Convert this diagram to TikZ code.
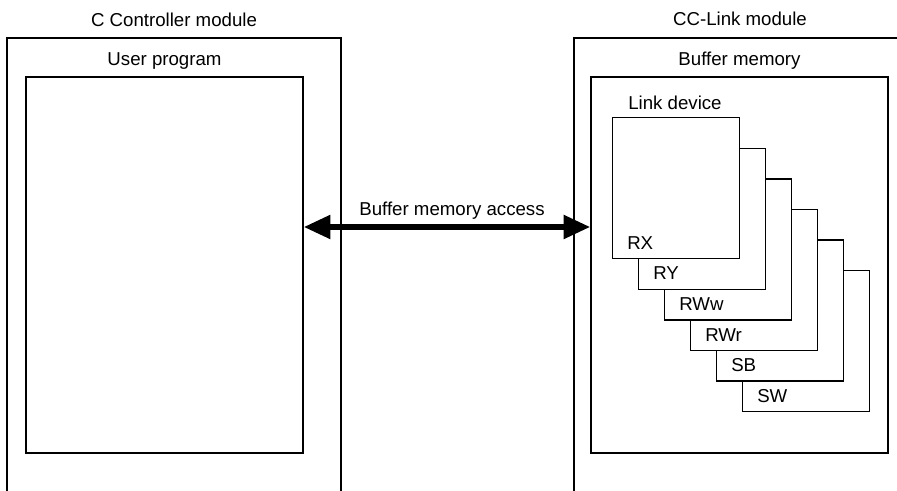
\documentclass[tikz,border=0pt]{standalone}
\usepackage{fontspec}
\setmainfont{Liberation Sans}
\usetikzlibrary{arrows.meta,positioning,fit}
\tikzset{
  base/.style={font=\fontsize{14pt}{16pt}\selectfont, inner sep=0pt, text=black},
  frame/.style={draw=black, line width=1pt, inner sep=0pt},
  dev/.style={frame, fill=white, minimum width=95.25pt, minimum height=105.75pt, anchor=north west},
  title/.style={base, anchor=base},
  tag/.style={base, anchor=base west},
  arr2/.style={line width=4.5pt, {Triangle[length=20pt,width=17pt]}-{Triangle[length=20pt,width=17pt]}},
}
\begin{document}
\begin{tikzpicture}[x=0.75pt,y=-0.75pt]
  \useasboundingbox (0,0) rectangle (897,491);
  \clip (0,0) rectangle (897,491);
  % modules, open at the bottom edge
  \node[frame,fit={(7,38)(341,520)}] (cpu) {};
  \node[frame,fit={(26,77)(303,453)}] (prog) {};
  \node[frame,fit={(574,38)(920,520)}] (cclink) {};
  \node[frame,fit={(591,77)(888,453)}] (buf) {};
  \node[title] (cpulbl) at (174,27) {C Controller module};
  \node[title] (proglbl) at (164.5,66) {User program};
  \node[title] (cclinklbl) at (740,26) {CC-Link module};
  \node[title] (buflbl) at (739.5,66) {Buffer memory};
  \node[tag] (ldlbl) at (628,110) {Link device};
  % link device stack, back to front
  \foreach \i/\t in {5/SW,4/SB,3/RWr,2/RWw,1/RY,0/RX}{
    \node[dev] (ld\i) at ({612+26*\i},{117+30.6*\i}) {};
    \node[tag] (lbl\i) at ([xshift=11.25pt,yshift=7.5pt]ld\i.south west) {\t};
  }
  \coordinate (lvl) at (0,227);
  \draw[arr2] (prog.east |- lvl) -- (buf.west |- lvl);
  \node[title] (acc) at (452,216) {Buffer memory access};
\end{tikzpicture}
\end{document}
